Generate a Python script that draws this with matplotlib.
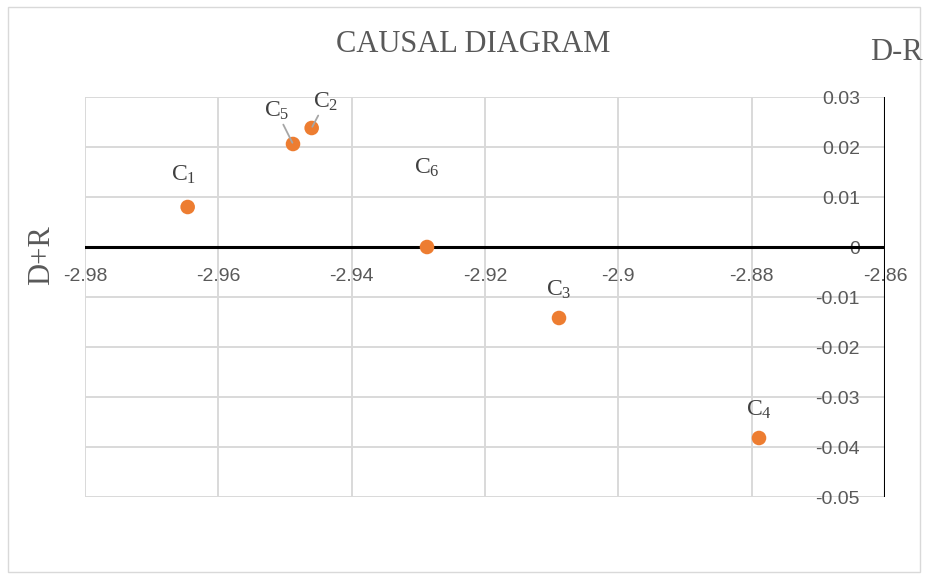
import matplotlib
matplotlib.use('Agg')
import matplotlib.pyplot as plt

# criteria positions
labels = ['C$_1$', 'C$_2$', 'C$_3$', 'C$_4$', 'C$_5$', 'C$_6$']
d_plus_r = [-2.9646, -2.9460, -2.9089, -2.8789, -2.9488, -2.9287]
d_minus_r = [0.0080, 0.0238, -0.0142, -0.0382, 0.0206, 0.0000]
xticks = [-2.98, -2.96, -2.94, -2.92, -2.90, -2.88, -2.86]
xticklabels = ['-2.98', '-2.96', '-2.94', '-2.92', '-2.9', '-2.88', '-2.86']
yticks = [-0.05, -0.04, -0.03, -0.02, -0.01, 0, 0.01, 0.02, 0.03]
yticklabels = ['-0.05', '-0.04', '-0.03', '-0.02', '-0.01', '0', '0.01', '0.02', '0.03']

plt.rcParams['mathtext.fontset'] = 'custom'
plt.rcParams['mathtext.rm'] = 'Liberation Serif'
plt.rcParams['mathtext.it'] = 'Liberation Serif'

serif = 'Liberation Serif'
sans = 'Liberation Sans'
grey = '#595959'

fig = plt.figure(figsize=(9.28, 5.75), dpi=100)
fig.patches.append(plt.Rectangle((8/928, 3/575), 912/928, 565/575, transform=fig.transFigure,
                                 fill=False, edgecolor='#d9d9d9', lw=1))
ax = fig.add_axes([85/928, 1-497/575, 800/928, 400/575])

# tick labels sit next to the axes that cross inside the plot
# (set spine positions first: it resets the ticks)
ax.spines['bottom'].set_position(('data', 0))
ax.spines['left'].set_position(('data', -2.86))
for s in ['top', 'bottom', 'left', 'right']:
    ax.spines[s].set_visible(False)

ax.set_xlim(-2.98, -2.86)
ax.set_ylim(-0.05, 0.03)
ax.set_xticks(xticks)
ax.set_xticklabels(xticklabels, fontfamily=sans, fontsize=14)
ax.set_yticks(yticks)
ax.set_yticklabels(yticklabels, fontfamily=sans, fontsize=14)
ax.grid(True, color='#d9d9d9', lw=1.4)
ax.set_axisbelow(True)
ax.tick_params(axis='x', length=0, pad=15, labelcolor=grey)
ax.tick_params(axis='y', length=0, pad=18, labelcolor=grey)
ax.axhline(0, color='black', lw=2.2, zorder=2)
ax.axvline(-2.86, color='black', lw=1.5, zorder=2)

ax.scatter(d_plus_r, d_minus_r, s=110, color='#ed7d31', zorder=3, edgecolor='none')

# label offsets in points (text position relative to the dot)
offsets = [(-3, 23), (10, 19), (0, 20), (0, 20), (-12, 24), (0, 57)]
leader = [False, True, False, False, True, False]
for lab, x, y, off, ld in zip(labels, d_plus_r, d_minus_r, offsets, leader):
    arrow = dict(arrowstyle='-', color='#a6a6a6', lw=1.3, shrinkA=0, shrinkB=1) if ld else None
    ax.annotate(lab, (x, y), xytext=off, textcoords='offset points', ha='center', va='center',
                fontfamily=serif, fontsize=17, color='#404040', arrowprops=arrow)

fig.text(473/928, 1-45/575, 'CAUSAL DIAGRAM', ha='center', va='center', fontfamily=serif,
         fontsize=22, color=grey)
fig.text(896/928, 1-52/575, 'D-R', ha='center', va='center', fontfamily=serif,
         fontsize=22, color=grey)
fig.text(42/928, 1-255/575, 'D+R', ha='center', va='center', rotation=90, fontfamily=serif,
         fontsize=22, color=grey)

fig.savefig('out.png', dpi=100)
